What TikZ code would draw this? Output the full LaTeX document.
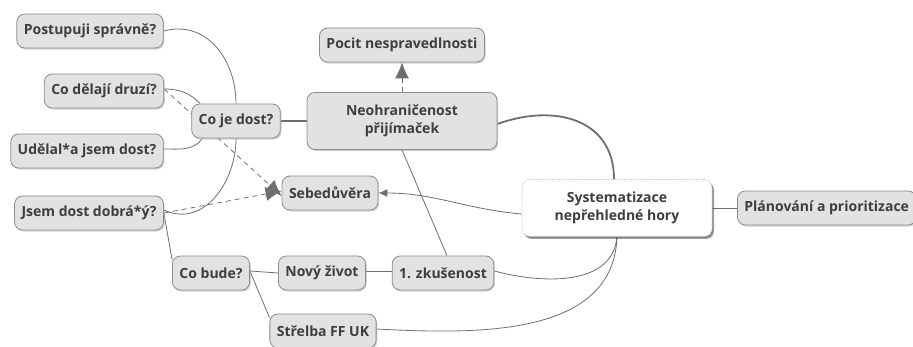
\documentclass[tikz,border=0pt]{standalone}
\usepackage{fontspec}
\setmainfont{Open Sans}
\usetikzlibrary{arrows.meta,shadows,backgrounds}
\definecolor{boxfill}{HTML}{E2E2E2}
\definecolor{boxline}{HTML}{8C8C8C}
\definecolor{ink}{HTML}{3E3E3E}
\definecolor{wire}{HTML}{6E6E6E}

\begin{document}
\begin{tikzpicture}[x=1pt,y=-1pt,
	topic/.style={draw=boxline, fill=boxfill, rounded corners=8pt, line width=0.8pt, text=ink,
		font=\fontsize{14}{17.5}\selectfont\bfseries, inner xsep=7pt, minimum height=34pt,
		drop shadow={shadow xshift=1.2pt, shadow yshift=-1.6pt, fill=black!35}},
	bigtopic/.style={topic, align=center, minimum width=190pt, minimum height=57pt},
	roottopic/.style={bigtopic, fill=white, draw=black!25, densely dotted,
		drop shadow={shadow xshift=2pt, shadow yshift=-2.5pt, fill=black!75}},
	wire/.style={draw=wire, line width=0.8pt},
	thickwire/.style={draw=wire, line width=1.8pt},
	hint/.style={wire, dashed, dash pattern=on 5pt off 4pt, -{Latex[length=16pt,width=14pt]}},
	pointer/.style={wire, -{Latex[length=9pt,width=8pt]}}]
			\clip (0,0) rectangle (913,347);
			\node [topic] (postupuji) at (90,31) {Postupuji správně?};
			\node [topic] (druzi) at (104,91) {Co dělají druzí?};
			\node [topic] (udelal) at (87,151) {Udělal*a jsem dost?};
			\node [topic] (dobra) at (89,213) {Jsem dost dobrá*ý?};
			\node [topic] (dost) at (236,121) {Co je dost?};
			\node [topic] (pocit) at (402,45) {Pocit nespravedlnosti};
			\node [bigtopic] (neo) at (402,121) {Neohraničenost\\přijímaček};
			\node [topic] (sebe) at (330,193) {Sebedůvěra};
			\node [roottopic] (hora) at (617,208) {Systematizace\\nepřehledné hory};
			\node [topic, anchor=west] (plan) at (737,208) {Plánování a prioritizace};
			\node [topic] (bude) at (211,273) {Co bude?};
			\node [topic] (zivot) at (322,273) {Nový život};
			\node [topic] (zkusenost) at (443,273) {1. zkušenost};
			\node [topic] (strelba) at (323,331) {Střelba FF UK};
			\begin{scope}[on background layer]
			\draw [wire] (postupuji.east) to [out=15, in=90, looseness=1.1] (dost.north);
			\draw [wire] ([yshift=2pt]druzi.east) to [out=0, in=135] ([xshift=9pt]dost.north west);
			\draw [wire] ([yshift=2pt]udelal.east) to [out=0, in=-125] ([xshift=11pt]dost.south west);
			\draw [wire] ([yshift=3pt]dobra.east) to [out=-25, in=-90, looseness=1.1] (dost.south);
			\draw [hint] ([yshift=2pt]druzi.east) -- ([yshift=-3pt]sebe.west);
			\draw [hint] (dobra.east) -- ([yshift=2pt]sebe.west);
			\draw [hint] (neo.north) -- (pocit.south);
			\draw [thickwire] (dost.east) -- (neo.west);
			\draw [thickwire] ([yshift=-3pt]neo.east) to [out=20, in=90, looseness=1.2] ([xshift=-3pt]hora.north);
			\draw [wire] (neo.south) -- ([xshift=4pt]zkusenost.north);
			\draw [pointer] ([yshift=-6pt]hora.west) to [out=175, in=0] (sebe.east);
			\draw [wire] ([yshift=2pt]zkusenost.east) to [out=-15, in=-95] (hora.south);
			\draw [wire] ([yshift=2pt]strelba.east) to [out=-3, in=-92] (hora.south);
			\draw [wire] (hora.east) -- (plan.west);
			\draw [wire] (dobra.east) -- ([yshift=-4pt]bude.north west);
			\draw [wire] ([yshift=2pt]bude.east) -- (zivot.west);
			\draw [wire] ([yshift=2pt]bude.east) -- ([yshift=-4pt]strelba.north west);
			\draw [wire] ([yshift=2pt]zivot.east) -- ([yshift=2pt]zkusenost.west);
			\end{scope}
			\end{tikzpicture}
\end{document}
